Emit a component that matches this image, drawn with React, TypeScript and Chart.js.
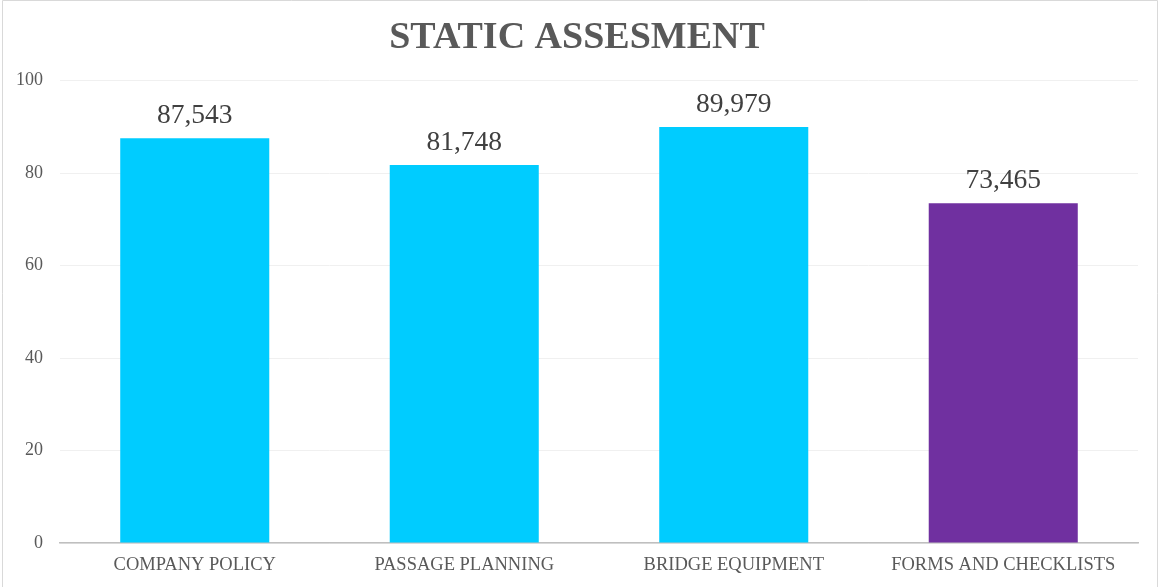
import React, { useEffect, useRef } from "react";
import { Chart, registerables } from "chart.js";

Chart.register(...registerables);

const categories = ["COMPANY POLICY", "PASSAGE PLANNING", "BRIDGE EQUIPMENT", "FORMS AND CHECKLISTS"];
const values = [87.543, 81.748, 89.979, 73.465];
const barColors = ["#00CCFF", "#00CCFF", "#00CCFF", "#7030A0"];
const yTicks = [0, 20, 40, 60, 80, 100];

const serif = '"Liberation Serif", "Times New Roman", serif';

const labelPlugin = {
  id: "valueLabels",
  afterDatasetsDraw(chart: any) {
    const ctx = chart.ctx;
    const meta = chart.getDatasetMeta(0);
    ctx.save();
    ctx.font = "27.5px " + serif;
    ctx.fillStyle = "#404040";
    ctx.textAlign = "center";
    ctx.textBaseline = "alphabetic";
    meta.data.forEach((bar: any, i: number) => {
      const txt = values[i].toFixed(3).replace(".", ",");
      ctx.fillText(txt, bar.x, bar.y - 15);
    });
    ctx.restore();
  },
};

const borderPlugin = {
  id: "frame",
  beforeDraw(chart: any) {
    const ctx = chart.ctx;
    ctx.save();
    ctx.fillStyle = "#ffffff";
    ctx.fillRect(0, 0, chart.width, chart.height);
    ctx.strokeStyle = "#d9d9d9";
    ctx.lineWidth = 1;
    ctx.beginPath();
    ctx.moveTo(2.5, chart.height);
    ctx.lineTo(2.5, 0.5);
    ctx.lineTo(chart.width - 2.5, 0.5);
    ctx.lineTo(chart.width - 2.5, chart.height);
    ctx.stroke();
    ctx.restore();
  },
};

export default function App() {
  const ref = useRef<HTMLCanvasElement>(null);
  useEffect(() => {
    document.body.style.margin = "0";
    const chart = new Chart(ref.current!, {
      type: "bar",
      data: {
        labels: categories,
        datasets: [
          {
            data: values,
            backgroundColor: barColors,
            categoryPercentage: 1,
            barPercentage: 0.553,
          },
        ],
      },
      options: {
        animation: false,
        responsive: false,
        layout: { autoPadding: false, padding: { left: 16, right: 22, top: 8, bottom: 11 } },
        plugins: {
          legend: { display: false },
          tooltip: { enabled: false },
          title: {
            display: true,
            text: "STATIC ASSESMENT",
            color: "#595959",
            font: { family: serif, size: 38, weight: "bold" },
            padding: { top: 7, bottom: 20 },
          },
        },
        scales: {
          x: {
            grid: { display: false, drawTicks: false },
            border: { color: "#bfbfbf", width: 1.5 },
            afterFit(scale: any) {
              scale.height = 33;
            },
            ticks: {
              color: "#595959",
              font: { family: serif, size: 18.5 },
              padding: 11,
              maxRotation: 0,
            },
          },
          y: {
            min: 0,
            max: 100,
            afterBuildTicks(scale: any) {
              scale.ticks = yTicks.map((v) => ({ value: v }));
            },
            afterFit(scale: any) {
              scale.width = 44;
            },
            grid: { color: "#f0f0f0", drawTicks: false },
            border: { display: false },
            ticks: {
              color: "#595959",
              font: { family: serif, size: 18 },
              padding: 17,
            },
          },
        },
      },
      plugins: [borderPlugin, labelPlugin],
    });
    return () => chart.destroy();
  }, []);
  return (
    <div style={{ width: 1160, height: 587 }}>
      <canvas ref={ref} width={1160} height={587} style={{ display: "block" }} />
    </div>
  );
}
